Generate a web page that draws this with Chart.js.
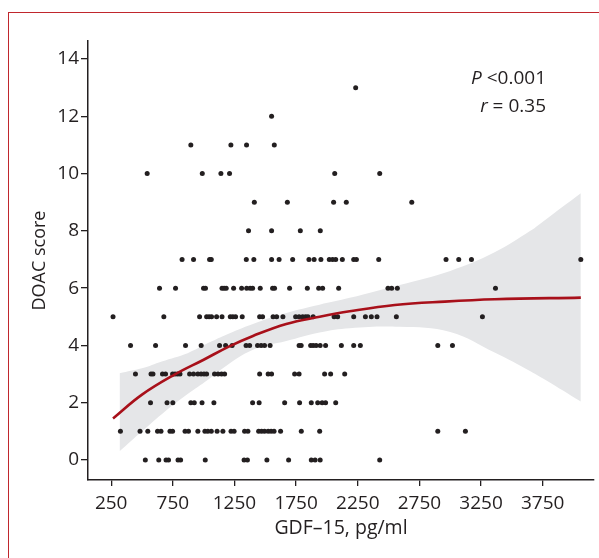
<!DOCTYPE html>
<html>
<head>
<meta charset="utf-8">
<script src="https://cdn.jsdelivr.net/npm/chart.js@4.4.1/dist/chart.umd.min.js"></script>
<style>
  html, body { margin: 0; padding: 0; background: #fff; }
  #wrap { position: relative; width: 599px; height: 558px; overflow: hidden; }
  #frame {
    position: absolute; left: 8px; top: 12px; width: 700px; height: 700px;
    border-left: 1px solid #c0272d; border-top: 1px solid #c0272d;
  }
  canvas { position: absolute; left: 0; top: 0; }
</style>
</head>
<body>
<div id="wrap">
  <div id="frame"></div>
  <canvas id="chart" width="599" height="558"></canvas>
</div>
<script>
// GDF-15 (pg/ml) values of the patients, grouped by DOAC score
const doac0 = [527, 636, 695, 715, 792, 813, 1013, 1328, 1355, 1513, 1689, 1873, 1904, 1945, 2428];
const doac1 = [325, 484, 547, 626, 654, 727, 748, 849, 877, 953, 1010, 1034, 1062, 1109, 1156, 1222, 1247,
  1332, 1359, 1446, 1470, 1494, 1523, 1547, 1571, 1624, 1792, 1941, 2899, 3123];
const doac2 = [569, 703, 750, 896, 924, 987, 1083, 1397, 1450, 1657, 1778, 1873, 1925, 1961, 1989, 2071];
const doac3 = [447, 573, 589, 666, 691, 748, 768, 788, 808, 886, 918, 953, 979, 1003, 1024, 1088, 1117,
  1145, 1170, 1454, 1523, 1551, 1738, 1774, 1981, 2030, 2144];
const doac4 = [407, 610, 853, 980, 1129, 1178, 1231, 1344, 1373, 1437, 1466, 1494, 1539, 1774, 1791, 1868,
  1888, 1912, 1945, 1989, 2117, 2217, 2271, 2899, 3018];
const doac5 = [265, 677, 967, 1024, 1044, 1064, 1105, 1149, 1216, 1237, 1259, 1313, 1454, 1478, 1563, 1592,
  1643, 1746, 1774, 1803, 1827, 1846, 1888, 2058, 2087, 2217, 2312, 2360, 2406, 2563, 3261];
const doac6 = [642, 772, 999, 1015, 1149, 1166, 1183, 1243, 1308, 1349, 1377, 1397, 1459, 1559, 1575, 1697,
  1841, 1933, 1965, 2095, 2495, 2525, 2571, 3367];
const doac7 = [825, 918, 1048, 1062, 1346, 1407, 1551, 1612, 1722, 1854, 1896, 1951, 2019, 2046, 2071, 2125,
  2217, 2239, 2420, 2966, 3069, 3172, 4059];
const doac8 = [1364, 1551, 1784, 1946];
const doac9 = [1411, 1679, 2054, 2157, 2688];
const doac10 = [542, 989, 1140, 1210, 2063, 2428];
const doac11 = [896, 1221, 1348, 1573];
const doac12 = [1551];
const doac13 = [2233];
const byScore = [doac0, doac1, doac2, doac3, doac4, doac5, doac6, doac7, doac8, doac9, doac10, doac11, doac12, doac13];

// smoothed fit (red line)
const fitX = [265, 500, 764, 1000, 1200, 1400, 1670, 1941, 2184, 2550, 2956, 3362, 4059];
const fitY = [1.45, 2.28, 2.98, 3.5, 3.95, 4.33, 4.75, 5.0, 5.19, 5.41, 5.53, 5.61, 5.67];

// confidence band (grey)
const bandX = [318, 500, 660, 870, 1035, 1170, 1400, 1670, 1940, 2185, 2590, 3000, 3360, 3650, 3770, 4059];
const bandHigh = [3.03, 3.2, 3.44, 3.73, 4.08, 4.35, 4.75, 5.13, 5.42, 5.66, 6.11, 6.6, 7.25, 8.0, 8.38, 9.31];
const bandLow = [0.3, 1.0, 1.6, 2.3, 2.8, 3.25, 3.85, 4.15, 4.45, 4.6, 4.65, 4.47, 3.75, 3.1, 2.8, 2.04];

const xTicks = [250, 750, 1250, 1750, 2250, 2750, 3250, 3750];
const yTicks = [0, 2, 4, 6, 8, 10, 12, 14];
const statLines = [["P", " <0.001"], ["r", " = 0.35"]];

const INK = "#231f20";
const FONT = "'Open Sans', 'Noto Sans', sans-serif";

const dots = [];
byScore.forEach((xs, score) => xs.forEach((x) => dots.push({ x, y: score })));
const pairs = (xs, ys) => xs.map((x, i) => ({ x, y: ys[i] }));

const statsText = {
  id: "statsText",
  afterDraw(chart) {
    const ctx = chart.ctx;
    ctx.save();
    ctx.fillStyle = INK;
    ctx.textBaseline = "middle";
    const right = 546;
    [79, 107].forEach((y, i) => {
      const [sym, rest] = statLines[i];
      ctx.font = `19px ${FONT}`;
      const wRest = ctx.measureText(rest).width;
      ctx.textAlign = "right";
      ctx.fillText(rest, right, y);
      ctx.font = `italic 19px ${FONT}`;
      ctx.fillText(sym, right - wRest, y);
    });
    ctx.restore();
  },
};

function fixTicks(values) {
  return (scale) => {
    scale.ticks = values.map((v) => ({ value: v }));
  };
}

new Chart(document.getElementById("chart"), {
  type: "scatter",
  data: {
    datasets: [
      {
        type: "line",
        data: pairs(bandX, bandHigh),
        borderWidth: 0,
        borderColor: "transparent",
        pointRadius: 0,
        fill: false,
        tension: 0.4,
        order: 3,
      },
      {
        type: "line",
        data: pairs(bandX, bandLow),
        borderWidth: 0,
        borderColor: "transparent",
        backgroundColor: "#e5e6e8",
        pointRadius: 0,
        fill: 0,
        tension: 0.4,
        order: 2,
      },
      {
        type: "line",
        data: pairs(fitX, fitY),
        borderColor: "#a8101a",
        borderWidth: 2.6,
        pointRadius: 0,
        fill: false,
        tension: 0.4,
        order: 0,
      },
      {
        data: dots,
        pointRadius: 2.5,
        pointBackgroundColor: INK,
        pointBorderWidth: 0,
        order: 1,
      },
    ],
  },
  options: {
    responsive: false,
    animation: false,
    layout: { padding: { top: 41, right: 5, left: 0, bottom: 0 } },
    plugins: { legend: { display: false }, tooltip: { enabled: false } },
    scales: {
      x: {
        type: "linear",
        min: 62,
        max: 4166,
        afterBuildTicks: fixTicks(xTicks),
        afterFit(scale) { scale.height = 78; },
        ticks: {
          color: INK,
          font: { family: FONT, size: 19 },
          padding: 6,
          maxRotation: 0,
          callback: (v) => String(v),
        },
        grid: { drawOnChartArea: false, drawTicks: true, tickLength: 6, color: INK, lineWidth: 1.3 },
        border: { display: true, color: INK, width: 1.5 },
        title: {
          display: true,
          text: "GDF–15, pg/ml",
          color: INK,
          font: { family: FONT, size: 19.5 },
          padding: { top: 0, bottom: 18 },
        },
      },
      y: {
        type: "linear",
        min: -0.7,
        max: 14.63,
        afterBuildTicks: fixTicks(yTicks),
        afterFit(scale) { scale.width = 88; },
        ticks: { color: INK, font: { family: FONT, size: 19 }, padding: 2 },
        grid: { drawOnChartArea: false, drawTicks: true, tickLength: 7, color: INK, lineWidth: 1.3 },
        border: { display: true, color: INK, width: 1.5 },
        title: {
          display: true,
          text: "DOAC score",
          color: INK,
          font: { family: FONT, size: 18 },
          padding: { top: 29, bottom: 0 },
        },
      },
    },
  },
  plugins: [statsText],
});
</script>
</body>
</html>
